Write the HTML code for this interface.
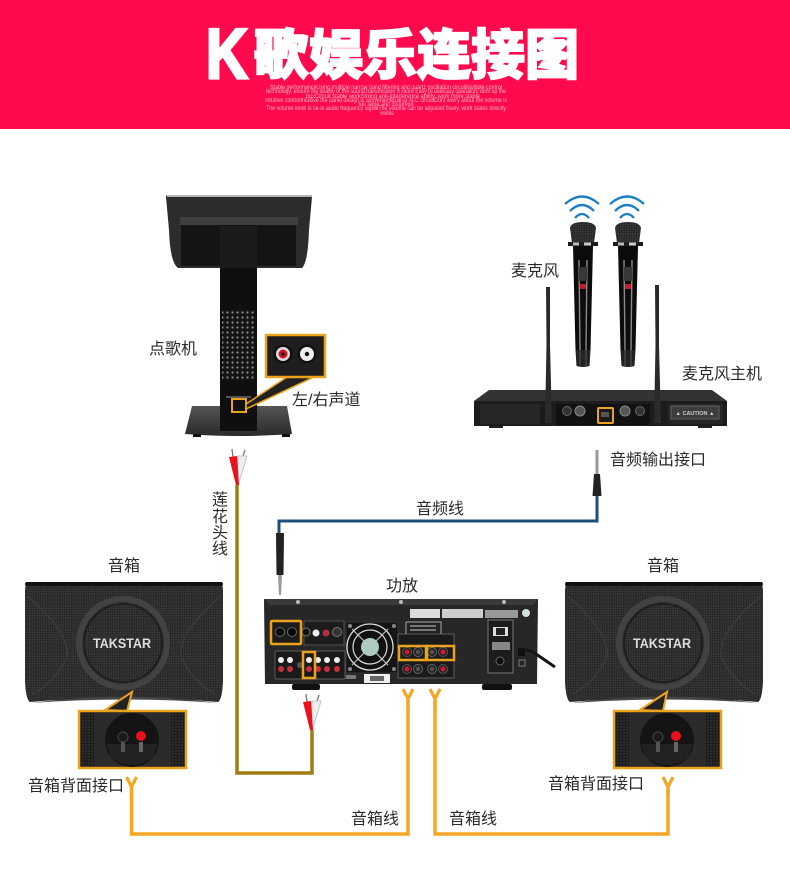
<!DOCTYPE html>
<html><head><meta charset="utf-8"><style>
html,body{margin:0;padding:0;background:#fff}
svg{display:block}
.l{font-family:"Liberation Sans","Noto Sans CJK SC",sans-serif;font-size:16px;fill:#2a2a2a}
.s{font-family:"Liberation Sans",sans-serif;font-size:6px;fill:#ffb0c0;text-anchor:middle}
.b{font-family:"Liberation Sans",sans-serif;font-weight:bold;font-size:13.5px;fill:#ddd;text-anchor:middle}
.t{font-family:"Noto Sans CJK SC",sans-serif;font-weight:900;font-size:54px;fill:#fff;stroke:#fff;stroke-width:1.8}
</style></head><body>
<svg width="790" height="870" viewBox="0 0 790 870" xmlns="http://www.w3.org/2000/svg">
<defs>
<pattern id="mesh" width="2.4" height="2.4" patternUnits="userSpaceOnUse"><rect width="2.4" height="2.4" fill="#353535"/><circle cx="1.2" cy="1.2" r=".6" fill="#141414"/></pattern>
<pattern id="dots" width="5" height="5" patternUnits="userSpaceOnUse"><rect width="5" height="5" fill="#141414"/><circle cx="2.5" cy="2.5" r="1.1" fill="#8a8a8a"/></pattern>
<pattern id="grain" width="3" height="3" patternUnits="userSpaceOnUse"><rect width="3" height="3" fill="#1c1c1c"/><circle cx="1" cy="1" r=".7" fill="#444"/></pattern>
<linearGradient id="bs" x1="0" x2="0" y1="0" y2="1"><stop offset="0" stop-color="#555"/><stop offset="1" stop-color="#2a2a2a"/></linearGradient>
<g id="spk">
<path d="M1 0H197L198 8V100Q197 118 193 120Q100 112 5 120Q1 118 0 100V8Z" fill="url(#mesh)"/>
<rect x="0" y="0" width="198" height="4" rx="2" fill="#111"/>
<path d="M6 121Q100 108 193 121Q100 114 6 121Z" fill="#444"/>
<path d="M2 14Q45 50 42 75Q30 100 8 112" fill="none" stroke="#3a3a3a" stroke-width="1.5"/>
<path d="M196 14Q153 50 156 75Q168 100 190 112" fill="none" stroke="#3a3a3a" stroke-width="1.5"/>
<circle cx="98" cy="61" r="44" fill="url(#mesh)" stroke="#424242" stroke-width="6"/>
<circle cx="98" cy="61" r="39" fill="none" stroke="#1c1c1c" stroke-width="1.5"/>
</g>
<g id="back">
<rect width="107" height="57" fill="#222" stroke="#eba31f" stroke-width="2.5"/>
<rect x="2" y="2" width="13" height="53" fill="url(#grain)"/>
<rect x="92" y="2" width="13" height="53" fill="url(#grain)"/>
<rect x="15" y="2" width="77" height="53" fill="#2b2b2b"/>
<circle cx="53" cy="29" r="27" fill="#141414"/>
<path d="M27 33H79L74 46Q53 62 32 46Z" fill="#222"/>
<circle cx="44" cy="26" r="5" fill="#1a1a1a" stroke="#444"/>
<rect x="42" y="31" width="4" height="10" fill="#555"/>
<circle cx="62" cy="25" r="5" fill="#e8101c"/>
<rect x="60" y="31" width="4" height="10" fill="#666"/>
</g>
<g id="rca">
<path d="M-5 -22L-4 -14M8 -21L6 -15" stroke="#777" stroke-width="1.3"/>
<path d="M1 -15L10 -15L6 -1L1 14Z" fill="#eeeeee" stroke="#bbb" stroke-width=".8"/>
<path d="M-8 -14L0 -15L2 14L-1 14Z" fill="#e8121e"/>
</g>
<g id="post"><circle r="4.5" fill="#222" stroke="#555"/><circle r="2.5" fill="#d01830"/></g>
<g id="postb"><circle r="4.5" fill="#222" stroke="#666"/><circle r="2.2" fill="#555"/></g>
<g id="w"><path d="M-17 -4Q0 -19 17 -4" /><path d="M-12 3Q0 -9 12 3"/><path d="M-7 10Q0 2 7 10"/></g>
<g id="mic">
<path d="M-13 6Q-12 0 0 0Q12 0 13 6L11 21H-11Z" fill="url(#mesh)"/>
<path d="M-15 20H15V24H-15Z" fill="#1c1c1c"/>
<rect x="-10" y="20.5" width="6" height="3" fill="#bbb"/><rect x="1" y="20.5" width="7" height="3" fill="#ccc"/>
<path d="M-10 24H10L7.500 128H-7.500Z" fill="#0c0c0c"/>
<path d="M-4 38L-3 128M4 38L3 128" stroke="#8a8a8a" stroke-width="1.4"/>
<rect x="-4" y="45" width="8" height="14" fill="#383838"/>
<rect x="-3" y="62" width="6" height="5" rx="1" fill="#c41e2c"/>
<path d="M-7.500 128H7.500L6.500 144Q0 146 -6.500 144Z" fill="#222"/>
<path d="M-3 128V144M3 128V144" stroke="#555"/>
</g>
<g id="y"><path d="M-5 0L0 10L5 0M0 10V20" fill="none" stroke="#f5a623" stroke-width="3.2"/></g>
</defs>

<rect width="790" height="129" fill="#ff0a4c"/>
<text transform="translate(206 78) scale(.86 1.05)" font-family="'Liberation Sans',sans-serif" font-weight="bold" font-size="67" fill="#fff" stroke="#fff" stroke-width="3">K</text>
<text class="t" x="254 309 363 417 471 525" y="74">歌娱乐连接图</text>
<text class="s" x="386" y="89" textLength="232" lengthAdjust="spacingAndGlyphs">Stable performanceUsing multiple narrow band filtering and quartz oscillation circuitMultiple control</text>
<text class="s" x="386" y="93" textLength="240" lengthAdjust="spacingAndGlyphs">technology, ensure the quality of the sound transmission is more Easy to useEasy operation, dont up the</text>
<text class="s" x="393" y="98" textLength="174" lengthAdjust="spacingAndGlyphs">boxCircuit stable workStrong anti-interference ability, work more stable</text>
<text class="s" x="386" y="102" textLength="242" lengthAdjust="spacingAndGlyphs">Intuitive controlIntuitive the panel design is convenientBuilt-in ALC circuitDont worry about the volume is</text>
<text class="s" x="386" y="106" textLength="55" lengthAdjust="spacingAndGlyphs">too large and distortion</text>
<text class="s" x="386" y="110" textLength="240" lengthAdjust="spacingAndGlyphs">The volume knob is tie-in audio frequency signalThe volume can be adjusted freely, work states directly</text>
<text class="s" x="387" y="115" textLength="14" lengthAdjust="spacingAndGlyphs">visible</text>

<!-- kiosk -->
<path d="M166 197Q166 195 168 195H310Q312 195 312 197L309 230Q308 262 302 268H178Q170 262 169 230Z" fill="#2c2c2c"/>
<rect x="167" y="195" width="145" height="2" fill="#b5b5b5"/>
<rect x="180" y="217" width="118" height="8" fill="#3f3f3f"/>
<rect x="181" y="225" width="115" height="41" fill="#141414"/>
<rect x="220" y="226" width="37" height="42" fill="#1b1b1b"/>
<path d="M192 406H287L292 434Q240 438 185 434Z" fill="url(#bs)"/>
<rect x="193" y="434" width="8" height="3" fill="#111"/><rect x="282" y="434" width="8" height="3" fill="#111"/>
<rect x="220" y="268" width="37" height="163" fill="#0f0f0f"/>
<rect x="222" y="310" width="33" height="70" fill="url(#dots)"/>
<rect x="226" y="396" width="25" height="2" fill="#555"/>
<rect x="232" y="399" width="14" height="13" fill="#111" stroke="#eba31f" stroke-width="2"/>
<path d="M246 404L287 377H314L246 409Z" fill="#222" stroke="#eba31f" stroke-width="1.5"/>
<rect x="266" y="335" width="59" height="42" fill="#1e1e1e" stroke="#eba31f" stroke-width="2.5"/>
<circle cx="283" cy="354" r="9.5" fill="#111"/><circle cx="283" cy="354" r="7" fill="#ddd"/><circle cx="283" cy="354" r="4.5" fill="#d91020"/><circle cx="283" cy="354" r="1.8" fill="#111"/>
<circle cx="307" cy="354" r="9.5" fill="#111"/><circle cx="307" cy="354" r="7" fill="#eee"/><circle cx="307" cy="354" r="2.2" fill="#111"/>

<!-- mics -->
<g fill="none" stroke="#1c7fc4" stroke-width="2.3">
<use href="#w" x="582" y="208"/><use href="#w" x="627" y="208"/>
</g>
<use href="#mic" x="583" y="222"/><use href="#mic" x="628" y="222"/>

<!-- receiver -->
<path d="M489 390H712L727 401H474Z" fill="#333"/>
<rect x="474" y="401" width="253" height="25" fill="#1c1c1c"/>
<rect x="480" y="404" width="60" height="20" fill="#262626"/>
<rect x="668" y="404" width="55" height="20" fill="#262626"/>
<rect x="489" y="426" width="14" height="2" fill="#222"/><rect x="698" y="426" width="14" height="2" fill="#222"/>
<rect x="556" y="404" width="94" height="21" fill="#111"/>
<circle cx="567" cy="411" r="4.5" fill="#333" stroke="#666"/><circle cx="580" cy="411" r="5" fill="#555" stroke="#888"/>
<circle cx="625" cy="411" r="5" fill="#555" stroke="#888"/><circle cx="640" cy="411" r="4.5" fill="#333" stroke="#666"/>
<rect x="598" y="408" width="15" height="15" rx="1" fill="#1a1a1a" stroke="#eba31f" stroke-width="2"/>
<rect x="601" y="412" width="8" height="5" fill="#555"/>
<rect x="671" y="406" width="48" height="13" fill="#3c3c3c" stroke="#777" stroke-width=".7"/>
<text x="695" y="415" text-anchor="middle" font-family="Liberation Sans,sans-serif" font-size="5.5" font-weight="bold" fill="#ccc">▲ CAUTION ▲</text>
<path d="M546 287H550V345L552 423H545L546.5 345Z" fill="#2a2a2a"/>
<path d="M655 285H659V345L661 423H654L655.5 345Z" fill="#2a2a2a"/>

<!-- wires -->
<path d="M597 490V521H279V535" fill="none" stroke="#1d4f7d" stroke-width="3"/>
<path d="M237 485V773H312V730" fill="none" stroke="#a07c10" stroke-width="3.5"/>
<path d="M408 700V834H131.500V787" fill="none" stroke="#f5a623" stroke-width="3.5"/>
<path d="M435 700V834H668V787" fill="none" stroke="#f5a623" stroke-width="3.5"/>
<use href="#y" x="408" y="689"/><use href="#y" x="435" y="689"/>
<use href="#y" x="131.500" y="777"/><use href="#y" x="668" y="777"/>

<!-- plugs -->
<use href="#rca" x="237" y="471"/>
<use href="#rca" x="311" y="716"/>
<rect x="595.500" y="450" width="3" height="24" fill="#999"/>
<path d="M594 474H600L601.500 496H592.500Z" fill="#222"/>
<path d="M276 533H284L283.500 575H276.500Z" fill="#222"/>
<path d="M278 575H282L281 595H279Z" fill="#999"/>

<!-- amp -->
<path d="M264 599H538L537 684H265Z" fill="#272727"/>
<path d="M264 599H538L533 605H270Z" fill="#3a3a3a"/>
<rect x="292" y="684" width="28" height="6" rx="2" fill="#111"/><rect x="482" y="684" width="30" height="6" rx="2" fill="#111"/>
<circle cx="298" cy="602" r="2" fill="#bbb"/><circle cx="401" cy="602" r="2" fill="#bbb"/><circle cx="504" cy="602" r="2" fill="#bbb"/>
<rect x="410" y="609" width="30" height="9" fill="#ddd"/><rect x="442" y="609" width="41" height="9" fill="#ccc"/><rect x="485" y="610" width="33" height="8" fill="#999"/>
<circle cx="526" cy="613" r="4" fill="#cfe3dc"/>
<rect x="406" y="622" width="35" height="13" fill="#222" stroke="#aaa"/>
<path d="M410 626H436M410 630H436" stroke="#ccc"/>
<rect x="488" y="620" width="25" height="53" fill="#1c1c1c" stroke="#777"/>
<rect x="493" y="627" width="15" height="9" fill="#ddd"/><rect x="496" y="628" width="9" height="7" fill="#222"/>
<rect x="492" y="642" width="18" height="8" fill="#888"/>
<circle cx="500" cy="661" r="4" fill="#0c0c0c" stroke="#666"/>
<rect x="304" y="621" width="40" height="24" fill="#1c1c1c" stroke="#666" stroke-width=".7"/>
<circle cx="306" cy="632" r="4" fill="#111" stroke="#777"/><circle cx="316" cy="633" r="3.500" fill="#eee"/><circle cx="326" cy="633" r="3.500" fill="#a83040"/><circle cx="337" cy="632" r="4.500" fill="#333" stroke="#777"/>
<rect x="275" y="651" width="70" height="28" rx="1" fill="#1a1a1a" stroke="#777" stroke-width=".7"/>
<g fill="#eee"><circle cx="281" cy="660" r="3"/><circle cx="290" cy="660" r="3"/><circle cx="309" cy="660" r="3"/><circle cx="318" cy="660" r="3"/><circle cx="327" cy="660" r="3"/><circle cx="337" cy="660" r="3"/></g>
<g fill="#c8303c"><circle cx="281" cy="669" r="3"/><circle cx="290" cy="669" r="3"/><circle cx="309" cy="669" r="3"/><circle cx="318" cy="669" r="3"/><circle cx="327" cy="669" r="3"/><circle cx="337" cy="669" r="3"/></g>
<circle cx="300" cy="665" r="3" fill="#555"/>
<rect x="271" y="621" width="30" height="23" rx="1" fill="#1c1c1c" stroke="#eba31f" stroke-width="2.500"/>
<circle cx="280" cy="632" r="4.500" fill="#050505" stroke="#666"/><circle cx="292" cy="632" r="4.500" fill="#050505" stroke="#666"/>
<rect x="303" y="652" width="12" height="26" fill="none" stroke="#eba31f" stroke-width="2.500"/>
<rect x="346" y="622" width="52" height="51" fill="#151515" stroke="#333"/>
<circle cx="370" cy="647" r="23" fill="#111" stroke="#ddd" stroke-width="1.300"/>
<circle cx="370" cy="647" r="17" fill="none" stroke="#ddd" stroke-width="1.200"/>
<path d="M352 629L388 665M388 629L352 665" stroke="#bbb" stroke-width="1.200"/>
<circle cx="370" cy="647" r="9" fill="#aecbc2"/>
<g fill="#888"><circle cx="350" cy="626" r="2"/><circle cx="394" cy="626" r="2"/><circle cx="350" cy="669" r="2"/><circle cx="394" cy="669" r="2"/></g>
<rect x="346" y="675" width="10" height="4" fill="#777"/><rect x="364" y="674" width="26" height="9" fill="#eee"/><rect x="370" y="676" width="14" height="5" fill="#666"/>
<rect x="398" y="634" width="56" height="44" fill="#1b1b1b" stroke="#777" stroke-width=".7"/>
<use href="#post" x="407" y="652"/><use href="#postb" x="418" y="652"/><use href="#postb" x="432" y="652"/><use href="#post" x="443" y="652"/>
<use href="#post" x="407" y="669"/><use href="#postb" x="418" y="669"/><use href="#postb" x="432" y="669"/><use href="#post" x="443" y="669"/>
<rect x="399" y="646" width="27" height="14" fill="none" stroke="#eba31f" stroke-width="2.500"/>
<rect x="427" y="646" width="27" height="14" fill="none" stroke="#eba31f" stroke-width="2.500"/>
<path d="M521 650Q530 649 536 654L555 667" fill="none" stroke="#151515" stroke-width="3"/>
<rect x="518" y="648" width="7" height="8" fill="#111"/>
<rect x="519" y="660" width="6" height="6" fill="none" stroke="#777"/>

<!-- speakers -->
<use href="#spk" x="25" y="582"/><use href="#spk" x="565" y="582"/>
<text class="b" x="122" y="648" textLength="58" lengthAdjust="spacingAndGlyphs">TAKSTAR</text>
<text class="b" x="662" y="648" textLength="58" lengthAdjust="spacingAndGlyphs">TAKSTAR</text>
<path d="M105 710L132 692L127 711Z" fill="#222" stroke="#eba31f" stroke-width="2"/>
<path d="M640 710L667 692L663 711Z" fill="#222" stroke="#eba31f" stroke-width="2"/>
<use href="#back" x="79" y="711"/><use href="#back" x="614" y="711"/>

<!-- labels -->
<text class="l" x="149" y="354">点歌机</text>
<text class="l" x="292" y="405">左/右声道</text>
<text class="l" x="511" y="276">麦克风</text>
<text class="l" x="682" y="379">麦克风主机</text>
<text class="l" x="610" y="465">音频输出接口</text>
<text class="l" x="416" y="514">音频线</text>
<text class="l" x="212" y="505">莲</text><text class="l" x="212" y="522">花</text><text class="l" x="212" y="538">头</text><text class="l" x="212" y="554">线</text>
<text class="l" x="108" y="571">音箱</text>
<text class="l" x="647" y="571">音箱</text>
<text class="l" x="386" y="591">功放</text>
<text class="l" x="28" y="791">音箱背面接口</text>
<text class="l" x="548" y="789">音箱背面接口</text>
<text class="l" x="351" y="824">音箱线</text>
<text class="l" x="449" y="824">音箱线</text>
</svg>
</body></html>
